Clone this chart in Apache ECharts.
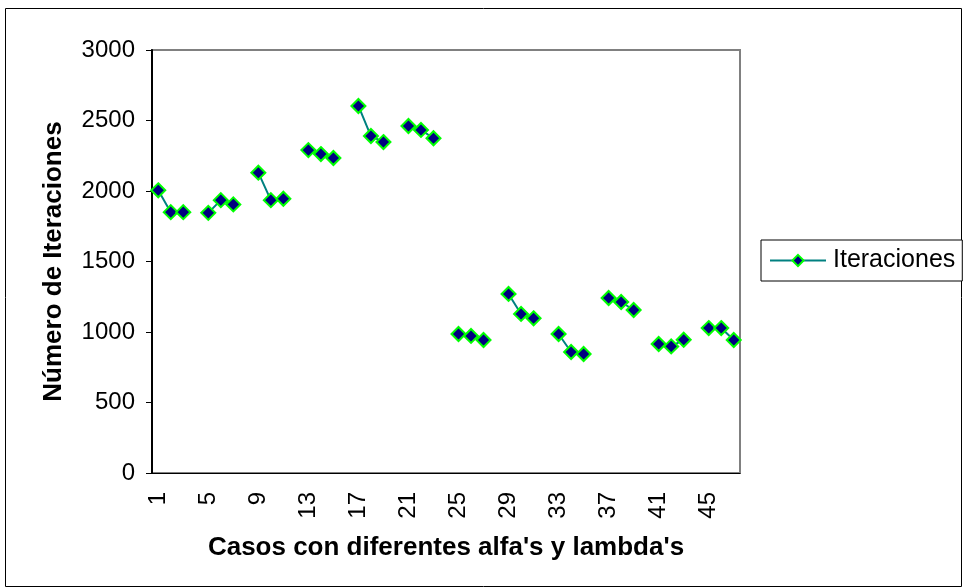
<!DOCTYPE html>
<html>
<head>
<meta charset="utf-8">
<script src="https://cdn.jsdelivr.net/npm/echarts@6/dist/echarts.min.js"></script>
<style>
html, body { margin: 0; padding: 0; background: #fff; }
#chart { width: 963px; height: 588px; }
</style>
</head>
<body>
<div id="chart"></div>
<script>
// casos 1..47
const casos = [];
for (let i = 1; i <= 47; i++) casos.push(String(i));

// iteraciones (null = sin dato)
const iteraciones = [
    2005, 1850, 1850, null,
    1845, 1935, 1905, null,
    2130, 1935, 1945, null,
    2290, 2262, 2234, null,
    2603, 2390, 2347, null,
    2461, 2433, 2374, null,
    986, 972, 943, null,
    1270, 1128, 1097, null,
    986, 858, 844, null,
    1241, 1213, 1156, null,
    915, 898, 945, null,
    1028, 1028, 943
];

const yTicks = [0, 500, 1000, 1500, 2000, 2500, 3000];

let chartDom = document.getElementById("chart");
let myChart = echarts.init(chartDom);

let option = {
    animation: false,
    textStyle: { fontFamily: "Liberation Sans, Arial, sans-serif", color: "#000" },
    graphic: [
        {
            type: "rect",
            shape: { x: 5.5, y: 8.5, width: 956, height: 578 },
            style: { fill: null, stroke: "#000", lineWidth: 1 },
            z: -1,
        },
    ],
    grid: {
        left: 152,
        top: 50,
        right: 223,
        bottom: 115,
        show: true,
        borderColor: "#808080",
        borderWidth: 2,
        backgroundColor: "#fff",
    },
    legend: {
        left: 761,
        top: 240,
        data: ["Iteraciones"],
        itemWidth: 56,
        itemHeight: 14,
        itemGap: 5,
        padding: [8, 7, 8, 8],
        borderColor: "#000",
        borderWidth: 1,
        backgroundColor: "#fff",
        textStyle: { fontSize: 25, color: "#000", padding: [0, 0, 0, 2] },
    },
    xAxis: {
        type: "category",
        data: casos,
        boundaryGap: true,
        name: "Casos con diferentes alfa's y lambda's",
        nameLocation: "middle",
        nameGap: 62,
        nameTextStyle: { fontSize: 26, fontWeight: "bold", color: "#000" },
        axisLine: { lineStyle: { color: "#000", width: 1 } },
        axisTick: { interval: 0, length: 6, lineStyle: { color: "#000" } },
        axisLabel: { interval: 3, rotate: 90, fontSize: 24, color: "#000", margin: 19 },
    },
    yAxis: {
        type: "value",
        min: yTicks[0],
        max: yTicks[yTicks.length - 1],
        interval: 500,
        name: "Número de Iteraciones",
        nameLocation: "middle",
        nameGap: 85,
        nameTextStyle: { fontSize: 26, fontWeight: "bold", color: "#000" },
        axisLine: { show: true, lineStyle: { color: "#000", width: 2 } },
        axisTick: { show: true, length: 6, lineStyle: { color: "#000" } },
        axisLabel: { fontSize: 24, color: "#000", margin: 17, formatter: (v) => String(v) },
        splitLine: { show: false },
    },
    series: [
        {
            name: "Iteraciones",
            type: "line",
            data: iteraciones,
            connectNulls: false,
            symbol: "diamond",
            symbolSize: 14,
            showAllSymbol: true,
            lineStyle: { color: "#008080", width: 2 },
            itemStyle: { color: "#000080", borderColor: "#00ff00", borderWidth: 2 },
        },
    ],
};

myChart.setOption(option);
</script>
</body>
</html>
